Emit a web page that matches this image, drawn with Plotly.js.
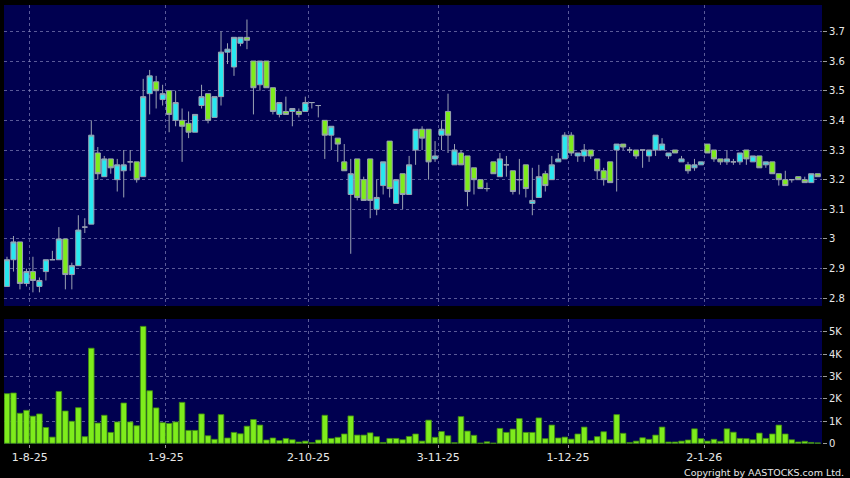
<!DOCTYPE html>
<html>
<head>
<meta charset="utf-8">
<script src="https://cdn.plot.ly/plotly-3.0.1.min.js"></script>
<style>
  html, body { margin: 0; padding: 0; background: #000000; }
  #chart { width: 850px; height: 478px; }
</style>
</head>
<body>
<div id="chart"></div>
<script>
// ---- data ----
const dates = [
  '2025-07-28','2025-07-29','2025-07-30','2025-07-31','2025-08-01',
  '2025-08-04','2025-08-05','2025-08-06','2025-08-07','2025-08-08',
  '2025-08-11','2025-08-12','2025-08-13','2025-08-14','2025-08-15',
  '2025-08-18','2025-08-19','2025-08-20','2025-08-21','2025-08-22',
  '2025-08-25','2025-08-26','2025-08-27','2025-08-28','2025-08-29',
  '2025-09-01','2025-09-02','2025-09-03','2025-09-04','2025-09-05',
  '2025-09-08','2025-09-09','2025-09-10','2025-09-11','2025-09-12',
  '2025-09-15','2025-09-16','2025-09-17','2025-09-18','2025-09-19',
  '2025-09-22','2025-09-23','2025-09-24','2025-09-25','2025-09-26',
  '2025-09-29','2025-09-30',
  '2025-10-02','2025-10-03','2025-10-06','2025-10-08','2025-10-09','2025-10-10',
  '2025-10-13','2025-10-14','2025-10-15','2025-10-16','2025-10-17',
  '2025-10-20','2025-10-21','2025-10-22','2025-10-23','2025-10-24',
  '2025-10-27','2025-10-28','2025-10-30','2025-10-31',
  '2025-11-03','2025-11-04','2025-11-05','2025-11-06','2025-11-07',
  '2025-11-10','2025-11-11','2025-11-12','2025-11-13','2025-11-14',
  '2025-11-17','2025-11-18','2025-11-19','2025-11-20','2025-11-21',
  '2025-11-24','2025-11-25','2025-11-26','2025-11-27','2025-11-28',
  '2025-12-01','2025-12-02','2025-12-03','2025-12-04','2025-12-05',
  '2025-12-08','2025-12-09','2025-12-10','2025-12-11','2025-12-12',
  '2025-12-15','2025-12-16','2025-12-17','2025-12-18','2025-12-19',
  '2025-12-22','2025-12-23','2025-12-24',
  '2025-12-29','2025-12-30','2025-12-31',
  '2026-01-02',
  '2026-01-05','2026-01-06','2026-01-07','2026-01-08','2026-01-09',
  '2026-01-12','2026-01-13','2026-01-14','2026-01-15','2026-01-16',
  '2026-01-19','2026-01-20','2026-01-21','2026-01-22','2026-01-23',
  '2026-01-26','2026-01-27'
];

const open = [
  2.84,2.93,2.99,2.85,2.89,2.84,2.89,2.93,2.93,3.00,
  2.88,2.91,3.04,3.05,3.29,3.21,3.27,3.20,3.23,3.26,
  3.26,3.21,3.49,3.53,3.47,3.50,3.40,3.40,3.39,3.36,
  3.45,3.49,3.41,3.48,3.63,3.58,3.66,3.68,3.60,3.52,
  3.60,3.51,3.42,3.43,3.43,3.43,3.43,3.46,3.45,3.40,
  3.35,3.34,3.26,3.15,3.27,3.20,3.27,3.10,3.18,3.33,
  3.12,3.22,3.15,3.30,3.37,3.37,3.27,3.35,3.43,3.25,
  3.29,3.28,3.24,3.20,3.17,3.26,3.21,3.25,3.23,3.20,
  3.25,3.12,3.14,3.22,3.20,3.26,3.27,3.35,3.28,3.28,
  3.30,3.27,3.23,3.26,3.30,3.32,3.30,3.30,3.30,3.28,
  3.30,3.30,3.28,3.30,3.26,3.25,3.24,3.25,3.32,3.30,
  3.27,3.26,3.26,3.26,3.30,3.26,3.28,3.25,3.26,3.22,
  3.20,3.20,3.21,3.20,3.19,3.22
];
const high = [
  2.94,3.01,2.99,2.90,2.94,2.87,2.93,2.96,3.04,3.00,
  2.92,3.08,3.07,3.40,3.31,3.28,3.27,3.27,3.30,3.30,
  3.26,3.54,3.57,3.55,3.52,3.50,3.50,3.44,3.43,3.42,
  3.52,3.49,3.48,3.70,3.66,3.68,3.68,3.74,3.60,3.60,
  3.60,3.51,3.46,3.48,3.44,3.44,3.48,3.46,3.45,3.40,
  3.38,3.34,3.32,3.27,3.27,3.21,3.27,3.20,3.26,3.33,
  3.20,3.22,3.28,3.37,3.38,3.37,3.33,3.40,3.49,3.32,
  3.30,3.28,3.24,3.20,3.19,3.26,3.29,3.28,3.23,3.27,
  3.25,3.24,3.25,3.23,3.28,3.29,3.36,3.36,3.29,3.32,
  3.30,3.27,3.24,3.26,3.32,3.32,3.31,3.30,3.30,3.30,
  3.35,3.34,3.29,3.30,3.28,3.26,3.27,3.26,3.32,3.30,
  3.27,3.30,3.27,3.29,3.30,3.28,3.28,3.26,3.26,3.22,
  3.23,3.20,3.21,3.21,3.22,3.22
];
const low = [
  2.84,2.89,2.83,2.84,2.82,2.82,2.86,2.93,2.93,2.83,
  2.83,2.91,3.02,3.05,3.20,3.21,3.22,3.16,3.14,3.23,
  3.19,3.21,3.42,3.44,3.45,3.36,3.38,3.26,3.34,3.36,
  3.44,3.39,3.41,3.45,3.59,3.55,3.65,3.64,3.42,3.50,
  3.51,3.42,3.41,3.42,3.38,3.41,3.43,3.44,3.41,3.27,
  3.30,3.26,3.23,2.95,3.13,3.13,3.07,3.08,3.15,3.14,
  3.12,3.10,3.15,3.25,3.30,3.20,3.26,3.30,3.29,3.25,
  3.25,3.11,3.15,3.17,3.16,3.22,3.21,3.21,3.15,3.15,
  3.14,3.08,3.14,3.16,3.20,3.26,3.27,3.28,3.26,3.26,
  3.27,3.20,3.18,3.19,3.16,3.30,3.29,3.27,3.24,3.26,
  3.28,3.30,3.27,3.29,3.26,3.22,3.23,3.25,3.29,3.26,
  3.25,3.25,3.25,3.25,3.25,3.26,3.24,3.24,3.22,3.18,
  3.18,3.19,3.20,3.19,3.19,3.21
];
const close = [
  2.93,2.99,2.85,2.89,2.86,2.86,2.93,2.93,3.00,2.88,
  2.91,3.03,3.04,3.35,3.22,3.27,3.24,3.25,3.25,3.26,
  3.20,3.48,3.55,3.50,3.49,3.42,3.46,3.38,3.36,3.42,
  3.48,3.40,3.48,3.63,3.64,3.68,3.68,3.67,3.51,3.60,
  3.51,3.43,3.46,3.42,3.44,3.42,3.46,3.46,3.45,3.35,
  3.38,3.32,3.23,3.22,3.14,3.13,3.13,3.14,3.26,3.17,
  3.20,3.15,3.25,3.37,3.34,3.26,3.28,3.37,3.35,3.30,
  3.25,3.16,3.20,3.17,3.17,3.22,3.27,3.25,3.16,3.20,
  3.17,3.13,3.21,3.18,3.25,3.27,3.35,3.29,3.29,3.30,
  3.28,3.23,3.20,3.19,3.32,3.31,3.30,3.28,3.30,3.30,
  3.35,3.32,3.29,3.29,3.27,3.23,3.25,3.26,3.29,3.27,
  3.26,3.27,3.26,3.29,3.27,3.28,3.24,3.26,3.22,3.20,
  3.18,3.20,3.20,3.19,3.22,3.21
];
const volume = [
  2230,2260,1350,1480,1220,1320,710,280,2330,1450,
  990,1600,300,4270,910,1260,490,960,1810,960,
  790,5250,2360,1590,930,890,960,1840,580,580,
  1320,340,180,1290,240,490,430,770,1070,820,
  150,240,120,220,160,60,100,30,150,1260,
  220,270,420,1230,370,370,470,300,40,220,
  220,160,310,420,100,1040,270,530,340,30,
  1200,550,360,10,70,10,670,490,640,1110,
  490,490,1140,210,820,240,280,190,420,730,
  120,300,520,160,1290,450,40,100,250,180,
  370,730,60,60,100,150,650,210,100,180,
  90,650,500,220,210,160,460,220,420,820,
  420,160,60,90,40,20
];

const monthStarts = ['2025-08-01','2025-09-01','2025-10-02','2025-11-03','2025-12-01','2026-01-02'];
const monthLabels = ['1-8-25','1-9-25','2-10-25','3-11-25','1-12-25','2-1-26'];
const priceTicks = [2.8,2.9,3.0,3.1,3.2,3.3,3.4,3.5,3.6,3.7];
const priceTickText = ['2.8','2.9','3','3.1','3.2','3.3','3.4','3.5','3.6','3.7'];
const volTicks = [0,1000,2000,3000,4000,5000];
const volTickText = ['0','1K','2K','3K','4K','5K'];

// ---- styling ----
const UP = '#28e8f0';
const DOWN = '#7eec1c';
const WICK = '#9aa2b2';
const GRID = 'rgba(150,150,200,0.6)';
const TXT = '#e8e8e8';
const FONT = 'DejaVu Sans, Verdana, sans-serif';

// month gridlines sit on the boundary before the first trading day of each month
const monthTickPos = monthStarts.map(d => dates.indexOf(d) - 0.5);

const candles = {
  type: 'candlestick',
  x: dates, open: open, high: high, low: low, close: close,
  xaxis: 'x', yaxis: 'y',
  increasing: { fillcolor: UP, line: { color: WICK, width: 1 } },
  decreasing: { fillcolor: DOWN, line: { color: WICK, width: 1 } },
  whiskerwidth: 0,
  showlegend: false, hoverinfo: 'skip'
};

const bars = {
  type: 'bar',
  x: dates, y: volume,
  xaxis: 'x2', yaxis: 'y2',
  marker: { color: DOWN, line: { color: '#3f8a12', width: 0.8 } },
  showlegend: false, hoverinfo: 'skip'
};

const xRange = [-0.46, dates.length - 1 + 0.66];

const baseX = {
  type: 'category',
  categoryorder: 'array', categoryarray: dates,
  range: xRange,
  tickmode: 'array', tickvals: monthTickPos, ticktext: monthLabels,
  showgrid: true, gridcolor: GRID, griddash: '3px,3px', gridwidth: 1,
  zeroline: false, showline: false,
  fixedrange: true
};

const layout = {
  width: 850, height: 478,
  paper_bgcolor: '#000000',
  plot_bgcolor: '#000050',
  margin: { l: 4, r: 28, t: 5, b: 34, pad: 0 },
  boxgap: 0.14, boxgroupgap: 0.08,
  bargap: 0.14,
  showlegend: false,
  font: { family: FONT, color: TXT, size: 10 },
  xaxis: Object.assign({}, baseX, {
    anchor: 'y', domain: [0, 1],
    showticklabels: false, ticks: '',
    rangeslider: { visible: false }
  }),
  xaxis2: Object.assign({}, baseX, {
    anchor: 'y2', domain: [0, 1],
    showticklabels: true, ticks: 'outside', ticklen: 3, tickcolor: '#9a9a9a', tickwidth: 1,
    tickfont: { family: FONT, size: 11, color: TXT }
  }),
  yaxis: {
    domain: [0.3144, 1],
    range: [2.774, 3.789],
    side: 'right',
    tickmode: 'array', tickvals: priceTicks, ticktext: priceTickText,
    ticks: 'outside', ticklen: 4, tickcolor: '#9a9a9a', tickwidth: 1,
    tickfont: { family: FONT, size: 10, color: TXT },
    showgrid: true, gridcolor: GRID, griddash: '3px,3px', gridwidth: 1,
    zeroline: false, showline: false, fixedrange: true
  },
  yaxis2: {
    domain: [0, 0.2847],
    range: [-30, 5580],
    side: 'right',
    tickmode: 'array', tickvals: volTicks, ticktext: volTickText,
    ticks: 'outside', ticklen: 4, tickcolor: '#9a9a9a', tickwidth: 1,
    tickfont: { family: FONT, size: 10, color: TXT },
    showgrid: true, gridcolor: GRID, griddash: '3px,3px', gridwidth: 1,
    zeroline: false, showline: false, fixedrange: true
  },
  annotations: [{
    xref: 'paper', yref: 'paper',
    x: 1.0293, y: -0.064,
    xanchor: 'right', yanchor: 'middle',
    text: 'Copyright by AASTOCKS.com Ltd.',
    showarrow: false,
    font: { family: FONT, size: 9.5, color: TXT }
  }]
};

Plotly.newPlot('chart', [candles, bars], layout, { staticPlot: true, displayModeBar: false });
</script>
</body>
</html>
